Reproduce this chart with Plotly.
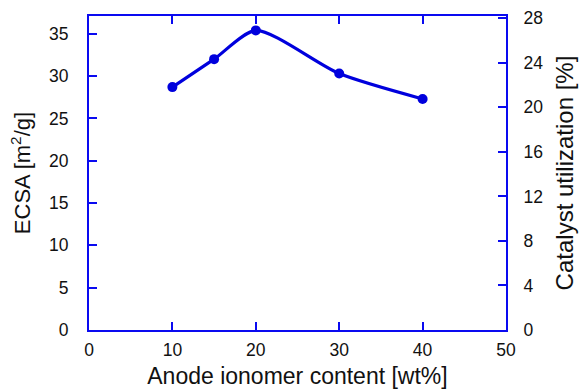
import plotly.graph_objects as go

# Anode ionomer content (wt%) and measured ECSA (m^2/g)
ionomer_wt = [10, 15, 20, 30, 40]
ecsa = [28.7, 32.0, 35.4, 30.3, 27.3]

x_ticks = [0, 10, 20, 30, 40, 50]
ecsa_ticks = [0, 5, 10, 15, 20, 25, 30, 35]
util_ticks = [0, 4, 8, 12, 16, 20, 24, 28]

BLUE = "#0a0af0"
LINE = "#0000dd"
FONT = "Liberation Sans, Arial, sans-serif"

fig = go.Figure()
fig.add_trace(go.Scatter(
    x=ionomer_wt, y=ecsa, mode="lines+markers",
    line=dict(color=LINE, width=3.2, shape="spline", smoothing=0.7),
    marker=dict(color=LINE, size=10),
    showlegend=False,
))
# invisible trace to activate the right-hand axis
fig.add_trace(go.Scatter(x=[None], y=[None], yaxis="y2", showlegend=False))

fig.update_layout(
    width=582, height=390,
    margin=dict(l=89, r=76, t=16, b=60),
    paper_bgcolor="white", plot_bgcolor="white",
    font=dict(family=FONT, size=17.5, color="#111"),
    xaxis=dict(
        range=[0, 50], tickvals=x_ticks, ticks="inside", ticklen=8, tickwidth=2,
        tickcolor=BLUE, showline=True, linecolor=BLUE, linewidth=2, automargin=False,
        mirror="ticks", showgrid=False, zeroline=False, ticklabelstandoff=3,
        title=dict(text="Anode ionomer content [wt%]", font=dict(size=23), standoff=9),
    ),
    yaxis=dict(
        range=[0, 37.1], tickvals=ecsa_ticks, ticks="inside", ticklen=8, tickwidth=2,
        tickcolor=BLUE, showline=True, linecolor=BLUE, linewidth=2, automargin=False,
        showgrid=False, zeroline=False, ticklabelstandoff=15,
        title=dict(text="ECSA [m<sup>2</sup>/g]", font=dict(size=22), standoff=12),
    ),
    yaxis2=dict(
        range=[0, 28.2], tickvals=util_ticks, ticks="inside", ticklen=8, tickwidth=2,
        tickcolor=BLUE, showline=True, linecolor=BLUE, linewidth=2, automargin=False,
        overlaying="y", side="right", showgrid=False, zeroline=False,
        ticklabelstandoff=12,
        title=dict(text="Catalyst utilization [%]", font=dict(size=24), standoff=14),
    ),
)

fig.write_html("out.html")
